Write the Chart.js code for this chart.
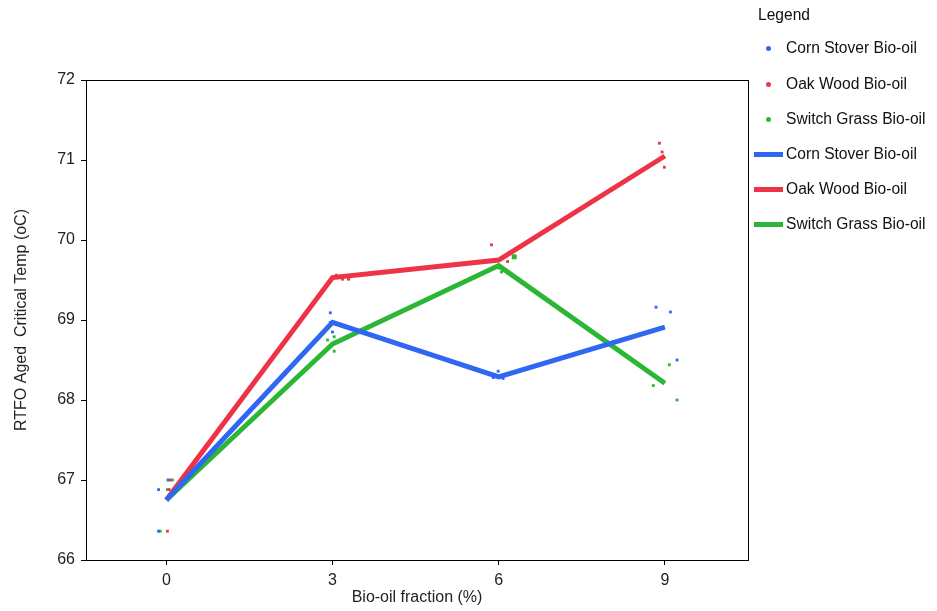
<!DOCTYPE html>
<html>
<head>
<meta charset="utf-8">
<script src="https://cdn.jsdelivr.net/npm/chart.js@4.4.0/dist/chart.umd.min.js"></script>
<style>
  body { margin: 0; background: #fff; font-family: "Liberation Sans", Arial, sans-serif; }
  #wrap { position: relative; width: 937px; height: 611px; }
  #legend { position: absolute; left: 754px; top: 0; font-size: 15.6px; color: #111; }
  #legend .title { position: absolute; left: 4px; top: 6px; white-space: nowrap; }
  #legend .item { position: absolute; left: 0; white-space: nowrap; height: 20px; line-height: 20px; }
  #legend .sym { display: inline-block; width: 30px; height: 20px; position: relative; vertical-align: top; }
  #legend .dot { position: absolute; left: 12px; top: 8px; width: 5px; height: 5px; border-radius: 50%; }
  #legend .bar { position: absolute; left: 0; top: 8px; width: 29px; height: 5px; }
  #legend .lab { margin-left: 2px; }
</style>
</head>
<body>
<div id="wrap">
  <canvas id="chart1" width="937" height="611"></canvas>
  <div id="legend"></div>
</div>
<script>
// series names and colours
const names = ['Corn Stover Bio-oil', 'Oak Wood Bio-oil', 'Switch Grass Bio-oil'];
const colors = ['#2f66f2', '#ee3347', '#2bb735'];

// x categories (bio-oil fraction, %)
const fractions = [0, 3, 6, 9];
const y_ticks = [66, 67, 68, 69, 70, 71, 72];

// replicate measurements (x slightly jittered as in the plot)
const corn_x = [-0.14, -0.14, 0.03, 2.96, 2.96, 3.0, 5.99, 5.90, 6.08, 8.84, 9.10, 9.22];
const corn_y = [66.88, 66.36, 67.0, 69.09, 68.97, 68.85, 68.36, 68.28, 68.27, 69.16, 69.10, 68.50];
const oak_x = [0.07, 0.05, 0.02, 3.07, 3.18, 3.29, 5.87, 6.16, 6.16, 8.90, 8.95, 8.99];
const oak_y = [67.0, 66.88, 66.36, 69.56, 69.51, 69.51, 69.94, 69.73, 69.59, 71.21, 71.10, 70.91];
const grass_x = [0.11, 0.02, -0.11, 2.91, 3.03, 3.03, 6.28, 6.0, 6.05, 9.08, 8.79, 9.22];
const grass_y = [67.0, 66.88, 66.36, 68.75, 68.79, 68.61, 69.79, 69.65, 69.60, 68.44, 68.18, 68.0];

// mean lines
const corn_mean = [66.75, 68.97, 68.29, 68.91];
const oak_mean = [66.75, 69.53, 69.75, 71.05];
const grass_mean = [66.75, 68.70, 69.68, 68.21];

function pts(xs, ys){
    let out = [];
    for (let i = 0; i < xs.length; i++) out.push({x: xs[i], y: ys[i]});
    return out;
}

const reps = [pts(corn_x, corn_y), pts(oak_x, oak_y), pts(grass_x, grass_y)];
const means = [pts(fractions, corn_mean), pts(fractions, oak_mean), pts(fractions, grass_mean)];

let datasets = [];
for (let i = 0; i < 3; i++) {
    datasets.push({
        label: names[i],
        data: reps[i],
        showLine: false,
        pointStyle: 'rect',
        pointRadius: (i == 2) ? [2,2,2,2,2,2,3.5,2,2,2,2,2] : 2,
        pointBorderWidth: 0,
        backgroundColor: colors[i],
        borderColor: colors[i],
        order: 1
    });
}
for (let i = 0; i < 3; i++) {
    datasets.push({
        label: names[i],
        data: means[i],
        showLine: true,
        borderColor: colors[i],
        backgroundColor: colors[i],
        borderWidth: 5,
        pointRadius: 0,
        tension: 0,
        order: 0
    });
}

const frame = {
    id: 'frame',
    afterDraw(chart) {
        const a = chart.chartArea, c = chart.ctx;
        c.save();
        c.strokeStyle = '#000';
        c.lineWidth = 1;
        c.strokeRect(a.left + 0.5, a.top + 0.5, a.right - a.left, a.bottom - a.top);
        c.restore();
    }
};

const tickFont = { family: '"Liberation Sans", Arial, sans-serif', size: 16 };
const titleFont = { family: '"Liberation Sans", Arial, sans-serif', size: 16 };

const chart1_cfg = {
    type: 'scatter',
    data: { datasets: datasets },
    options: {
        responsive: false,
        animation: false,
        layout: { padding: { left: 0, right: 189, top: 80, bottom: 0 } },
        plugins: { legend: { display: false }, tooltip: { enabled: false } },
        scales: {
            x: {
                type: 'linear',
                min: -1.45,
                max: 10.5,
                afterBuildTicks: s => { s.ticks = fractions.map(v => ({value: v})); },
                afterFit: s => { s.height = 51; },
                ticks: { color: '#222', font: tickFont, padding: 6 },
                grid: { drawOnChartArea: false, drawTicks: true, tickLength: 5, color: '#000' },
                border: { display: true, color: '#000' },
                title: { display: true, text: 'Bio-oil fraction (%)', color: '#222', font: titleFont, padding: { top: 6 } }
            },
            y: {
                min: 66,
                max: 72,
                afterBuildTicks: s => { s.ticks = y_ticks.map(v => ({value: v})); },
                afterFit: s => { s.width = 86; },
                ticks: { color: '#222', font: tickFont, padding: 6 },
                grid: { drawOnChartArea: false, drawTicks: true, tickLength: 5, color: '#000' },
                border: { display: true, color: '#000' },
                title: { display: true, text: 'RTFO Aged  Critical Temp (oC)', color: '#222', font: titleFont, padding: { top: 12, bottom: 8 } }
            }
        }
    },
    plugins: [frame]
};

const chart1_ctx = document.getElementById('chart1').getContext('2d');
let chart1 = new Chart(chart1_ctx, chart1_cfg);

// legend
const legend = document.getElementById('legend');
let html = '<div class="title">Legend</div>';
const rowY = [38, 74, 109, 144, 179, 214];
for (let i = 0; i < 6; i++) {
    const k = i % 3;
    const sym = i < 3
        ? '<span class="dot" style="background:' + colors[k] + '"></span>'
        : '<span class="bar" style="background:' + colors[k] + '"></span>';
    html += '<div class="item" style="top:' + rowY[i] + 'px"><span class="sym">' + sym + '</span><span class="lab">' + names[k] + '</span></div>';
}
legend.innerHTML = html;
</script>
</body>
</html>
